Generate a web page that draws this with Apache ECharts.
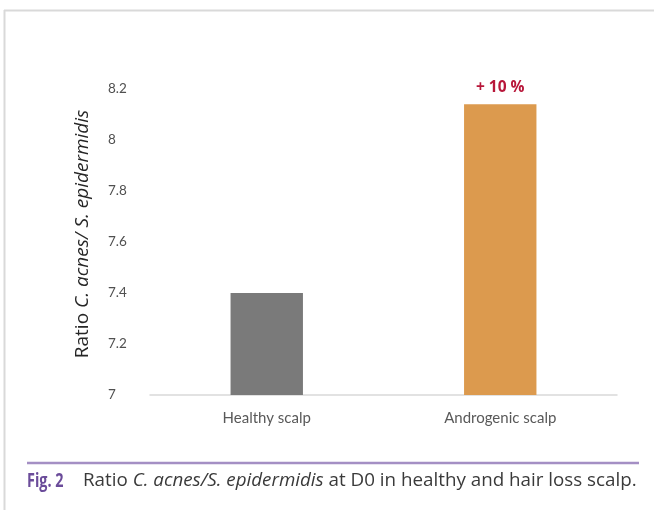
<!DOCTYPE html>
<html>
<head>
<meta charset="utf-8">
<script src="https://cdn.jsdelivr.net/npm/echarts@6/dist/echarts.min.js"></script>
<style>
  html, body { margin: 0; padding: 0; background: #fff; }
  #chart { width: 654px; height: 510px; }
</style>
</head>
<body>
<div id="chart"></div>
<script>
// Ratio of C. acnes to S. epidermidis at D0
const categories = ['Healthy scalp', 'Androgenic scalp'];
const ratioValues = [7.4, 8.14];
const barColors = ['#7a7a7a', '#dc9a4e'];
const changeLabels = ['', '+ 10 %'];
const yTicks = { min: 7, max: 8.2, interval: 0.2 };

const chart = echarts.init(document.getElementById('chart'), null, { renderer: 'canvas' });

chart.setOption({
  backgroundColor: '#ffffff',
  animation: false,
  grid: { left: 150, right: 37, top: 89, bottom: 115 },
  xAxis: {
    type: 'category',
    data: categories,
    axisLine: { lineStyle: { color: '#d9d9d9', width: 1.5 } },
    axisTick: { show: false },
    axisLabel: { color: '#595959', fontFamily: 'Lato', fontSize: 15, margin: 16 }
  },
  yAxis: {
    type: 'value',
    min: yTicks.min,
    max: yTicks.max,
    interval: yTicks.interval,
    axisLine: { show: false },
    axisTick: { show: false },
    splitLine: { show: false },
    axisLabel: {
      color: '#505050', fontFamily: 'Lato', fontSize: 13.5,
      align: 'left', margin: 42,
      formatter: v => String(+v.toFixed(1))
    },
    name: '{n|Ratio }{i|C. acnes/ S. epidermidis}',
    nameLocation: 'middle',
    nameRotate: 90,
    nameGap: 58,
    nameTextStyle: {
      padding: [0, 0, 0, 16],
      rich: {
        n: { fontFamily: 'Open Sans', fontSize: 19, color: '#262626' },
        i: { fontFamily: 'Open Sans', fontSize: 19, color: '#262626', fontStyle: 'italic' }
      }
    }
  },
  series: [{
    type: 'bar',
    barWidth: '31%',
    data: ratioValues.map((v, i) => ({
      value: v,
      itemStyle: { color: barColors[i] },
      label: {
        show: changeLabels[i] !== '',
        formatter: changeLabels[i],
        position: 'top',
        distance: 9,
        color: '#b8173a',
        fontFamily: 'Open Sans',
        fontWeight: 'bold',
        fontSize: 15.5
      }
    }))
  }],
  graphic: [
    { type: 'line', shape: { x1: 4, y1: 10.5, x2: 654, y2: 10.5 }, style: { stroke: '#d9d9d9', lineWidth: 2 } },
    { type: 'line', shape: { x1: 4.5, y1: 10, x2: 4.5, y2: 510 }, style: { stroke: '#d9d9d9', lineWidth: 2 } },
    { type: 'line', shape: { x1: 27, y1: 463, x2: 639, y2: 463 }, style: { stroke: '#a48fc4', lineWidth: 2.5 } },
    {
      type: 'text', x: 27, y: 471, scaleX: 0.72,
      style: {
        text: 'Fig. 2',
        font: 'bold 20px "Open Sans"',
        fill: '#6b4c9a'
      }
    },
    {
      type: 'text', x: 83, y: 471,
      style: {
        text: '{n|Ratio }{i|C. acnes/S. epidermidis}{n| at D0 in healthy and hair loss scalp.}',
        rich: {
          n: { fontFamily: 'Open Sans', fontSize: 18.8, fill: '#3a3a3a' },
          i: { fontFamily: 'Open Sans', fontStyle: 'italic', fontSize: 18.8, fill: '#3a3a3a' }
        }
      }
    }
  ]
});
</script>
</body>
</html>
